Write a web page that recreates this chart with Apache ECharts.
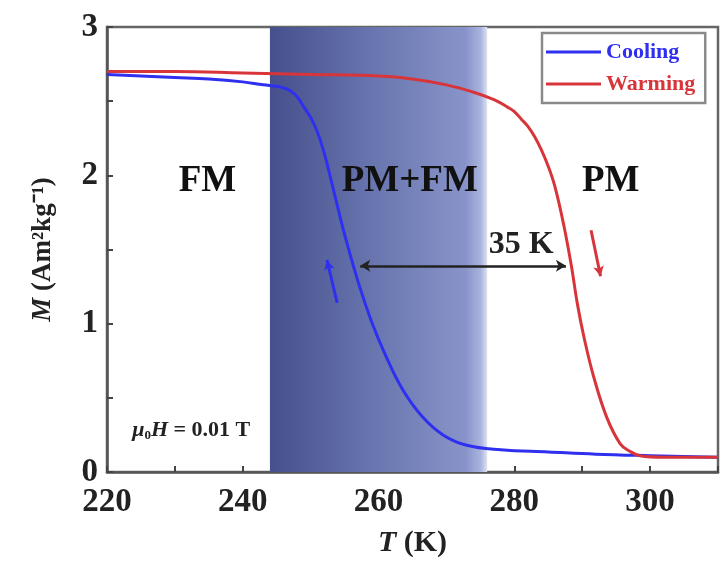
<!DOCTYPE html>
<html>
<head>
<meta charset="utf-8">
<script src="https://cdn.jsdelivr.net/npm/echarts@6/dist/echarts.min.js"></script>
<style>
  html, body { margin: 0; padding: 0; background: #fff; }
  #chart { width: 721px; height: 563px; }
</style>
</head>
<body>
<div id="chart"></div>
<script>
// cooling curve, T (K) and M (Am2/kg)
var tempCooling = [220, 225, 230, 235, 240, 243, 245, 246, 247, 248, 249, 250, 251, 252, 253, 255, 257, 259, 261, 263.5, 266.5, 269.5, 273, 278, 285, 292, 300, 310];
var magCooling  = [2.68, 2.67, 2.66, 2.65, 2.63, 2.61, 2.60, 2.59, 2.57, 2.53, 2.46, 2.39, 2.29, 2.15, 1.97, 1.60, 1.28, 1.01, 0.79, 0.56, 0.37, 0.25, 0.18, 0.15, 0.135, 0.12, 0.11, 0.10];
// warming curve
var tempWarming = [220, 230, 240, 250, 260, 265, 270, 274, 277, 279, 280, 281, 282, 283, 284, 285, 286, 287.3, 288.4, 289.3, 290.3, 291.7, 293.6, 295.6, 297, 298.5, 302, 310];
var magWarming  = [2.70, 2.70, 2.69, 2.68, 2.67, 2.65, 2.61, 2.56, 2.51, 2.46, 2.43, 2.38, 2.33, 2.26, 2.17, 2.06, 1.92, 1.66, 1.39, 1.13, 0.90, 0.64, 0.37, 0.19, 0.14, 0.11, 0.10, 0.10];

var xTicks = [220, 240, 260, 280, 300];
var yTicks = [0, 1, 2, 3];

// PM+FM coexistence window and hysteresis width
var mixedRange = [244, 276];
var hystT = [257.3, 287.6];
var hystM = 1.39;

// region / annotation labels (anchored in data units)
var regionNames = ['FM', 'PM+FM', 'PM'];
var regionT = [234.8, 264.6, 294.2];
var regionM = [1.96, 1.96, 1.96];

var FONT = 'Liberation Serif';
var BLUE = '#2f2ff0';
var RED = '#d8353a';

function pairs(xs, ys) {
    var out = [];
    for (var i = 0; i < xs.length; i++) out.push([xs[i], ys[i]]);
    return out;
}

var myChart = echarts.init(document.getElementById('chart'));

var labelData = [];
for (var i = 0; i < regionNames.length; i++) {
    labelData.push({ value: [regionT[i], regionM[i]], name: regionNames[i] });
}

var option = {
    animation: false,
    backgroundColor: '#fff',
    grid: {
        left: 107, top: 27, right: -5, bottom: 88,
        show: true, borderColor: '#666', borderWidth: 2.5
    },
    legend: {
        left: 542, top: 33,
        orient: 'vertical',
        icon: 'rect',
        itemWidth: 55, itemHeight: 3, itemGap: 10,
        padding: [8, 10, 8, 4],
        borderColor: '#8a8a8a', borderWidth: 2.5,
        backgroundColor: '#fff',
        textStyle: { fontFamily: FONT, fontWeight: 'bold', fontSize: 22, lineHeight: 22 },
        data: [
            { name: 'Cooling', textStyle: { color: BLUE } },
            { name: 'Warming', textStyle: { color: RED } }
        ]
    },
    xAxis: {
        type: 'value', min: 220, max: 310, interval: 10,
        name: '{i|T} (K)',
        nameLocation: 'middle', nameGap: 56,
        nameTextStyle: {
            fontFamily: FONT, fontWeight: 'bold', fontSize: 30, color: '#222',
            rich: { i: { fontFamily: FONT, fontWeight: 'bold', fontStyle: 'italic', fontSize: 30, color: '#222' } }
        },
        axisLine: { lineStyle: { color: '#555', width: 2.5 } },
        axisTick: { inside: true, length: 6, lineStyle: { color: '#444', width: 2 } },
        axisLabel: {
            margin: 14, fontFamily: FONT, fontWeight: 'bold', fontSize: 33, color: '#222',
            formatter: function (v) { return xTicks.indexOf(v) >= 0 ? String(v) : ''; }
        },
        splitLine: { show: false }
    },
    yAxis: {
        type: 'value', min: 0, max: 3, interval: 0.5,
        name: '{i|M} (Am²kg⁻¹)',
        nameLocation: 'middle', nameGap: 50, nameRotate: 90,
        nameTextStyle: {
            fontFamily: FONT, fontWeight: 'bold', fontSize: 27, color: '#222',
            rich: { i: { fontFamily: FONT, fontWeight: 'bold', fontStyle: 'italic', fontSize: 27, color: '#222' } }
        },
        axisLine: { lineStyle: { color: '#555', width: 2.5 } },
        axisTick: { inside: true, length: 6, lineStyle: { color: '#444', width: 2 } },
        axisLabel: {
            margin: 9, fontFamily: FONT, fontWeight: 'bold', fontSize: 33, color: '#222',
            formatter: function (v) { return yTicks.indexOf(v) >= 0 ? String(v) : ''; }
        },
        splitLine: { show: false }
    },
    series: [
        {
            // shaded PM+FM window
            name: 'mixed', type: 'line', data: [], z: 1, silent: true,
            markArea: {
                silent: true,
                itemStyle: {
                    color: new echarts.graphic.LinearGradient(0, 0, 1, 0, [
                        { offset: 0, color: '#46508c' },
                        { offset: 0.5, color: '#6a77b0' },
                        { offset: 0.9, color: '#8894c9' },
                        { offset: 0.97, color: '#a9b3de' },
                        { offset: 1, color: '#dfe3f3' }
                    ])
                },
                data: [[{ xAxis: mixedRange[0] }, { xAxis: mixedRange[1] }]]
            }
        },
        {
            name: 'Cooling', type: 'line', z: 3,
            data: pairs(tempCooling, magCooling),
            smooth: 0.4, symbol: 'none',
            lineStyle: { color: BLUE, width: 3 },
            itemStyle: { color: BLUE },
            markLine: {
                silent: true, symbol: ['none', 'arrow'], symbolSize: [8, 10],
                label: { show: false },
                lineStyle: { color: BLUE, width: 3, type: 'solid' },
                data: [[{ coord: [253.9, 1.14] }, { coord: [252.4, 1.43] }]]
            }
        },
        {
            name: 'Warming', type: 'line', z: 3,
            data: pairs(tempWarming, magWarming),
            smooth: 0.4, symbol: 'none',
            lineStyle: { color: RED, width: 3 },
            itemStyle: { color: RED },
            markLine: {
                silent: true, symbol: ['none', 'arrow'], symbolSize: [8, 10],
                label: { show: false },
                lineStyle: { color: RED, width: 3, type: 'solid' },
                data: [[{ coord: [291.3, 1.63] }, { coord: [292.7, 1.32] }]]
            }
        },
        {
            // hysteresis arrow
            name: 'hyst', type: 'line', data: [], z: 4,
            markLine: {
                silent: true, symbol: ['arrow', 'arrow'], symbolSize: [9, 10],
                label: { show: false },
                lineStyle: { color: '#222', width: 2.5, type: 'solid' },
                data: [[{ coord: [hystT[0], hystM] }, { coord: [hystT[1], hystM] }]]
            }
        },
        {
            name: 'labels', type: 'scatter', z: 5, symbolSize: 0, silent: true,
            itemStyle: { opacity: 1 },
            data: labelData,
            label: {
                show: true, position: 'inside',
                fontFamily: FONT, fontWeight: 'bold', fontSize: 37, color: '#111',
                formatter: function (p) { return p.name; }
            }
        },
        {
            name: 'notes', type: 'scatter', z: 5, symbolSize: 0, silent: true,
            itemStyle: { opacity: 1 },
            data: [
                {
                    value: [281.0, 1.53], name: '35 K',
                    label: { fontSize: 32 }
                },
                {
                    value: [232.4, 0.28], name: 'field',
                    label: {
                        fontSize: 22,
                        formatter: '{i|μ}{s|0}{i|H} = 0.01 T',
                        rich: {
                            i: { fontFamily: FONT, fontWeight: 'bold', fontStyle: 'italic', fontSize: 22, color: '#222', lineHeight: 24 },
                            s: { fontFamily: FONT, fontWeight: 'bold', fontSize: 13, color: '#222', verticalAlign: 'bottom', lineHeight: 14 }
                        }
                    }
                }
            ],
            label: {
                show: true, position: 'inside',
                fontFamily: FONT, fontWeight: 'bold', color: '#222',
                formatter: function (p) { return p.name; }
            }
        }
    ]
};

window.onresize = myChart.resize;
myChart.setOption(option);
</script>
</body>
</html>
